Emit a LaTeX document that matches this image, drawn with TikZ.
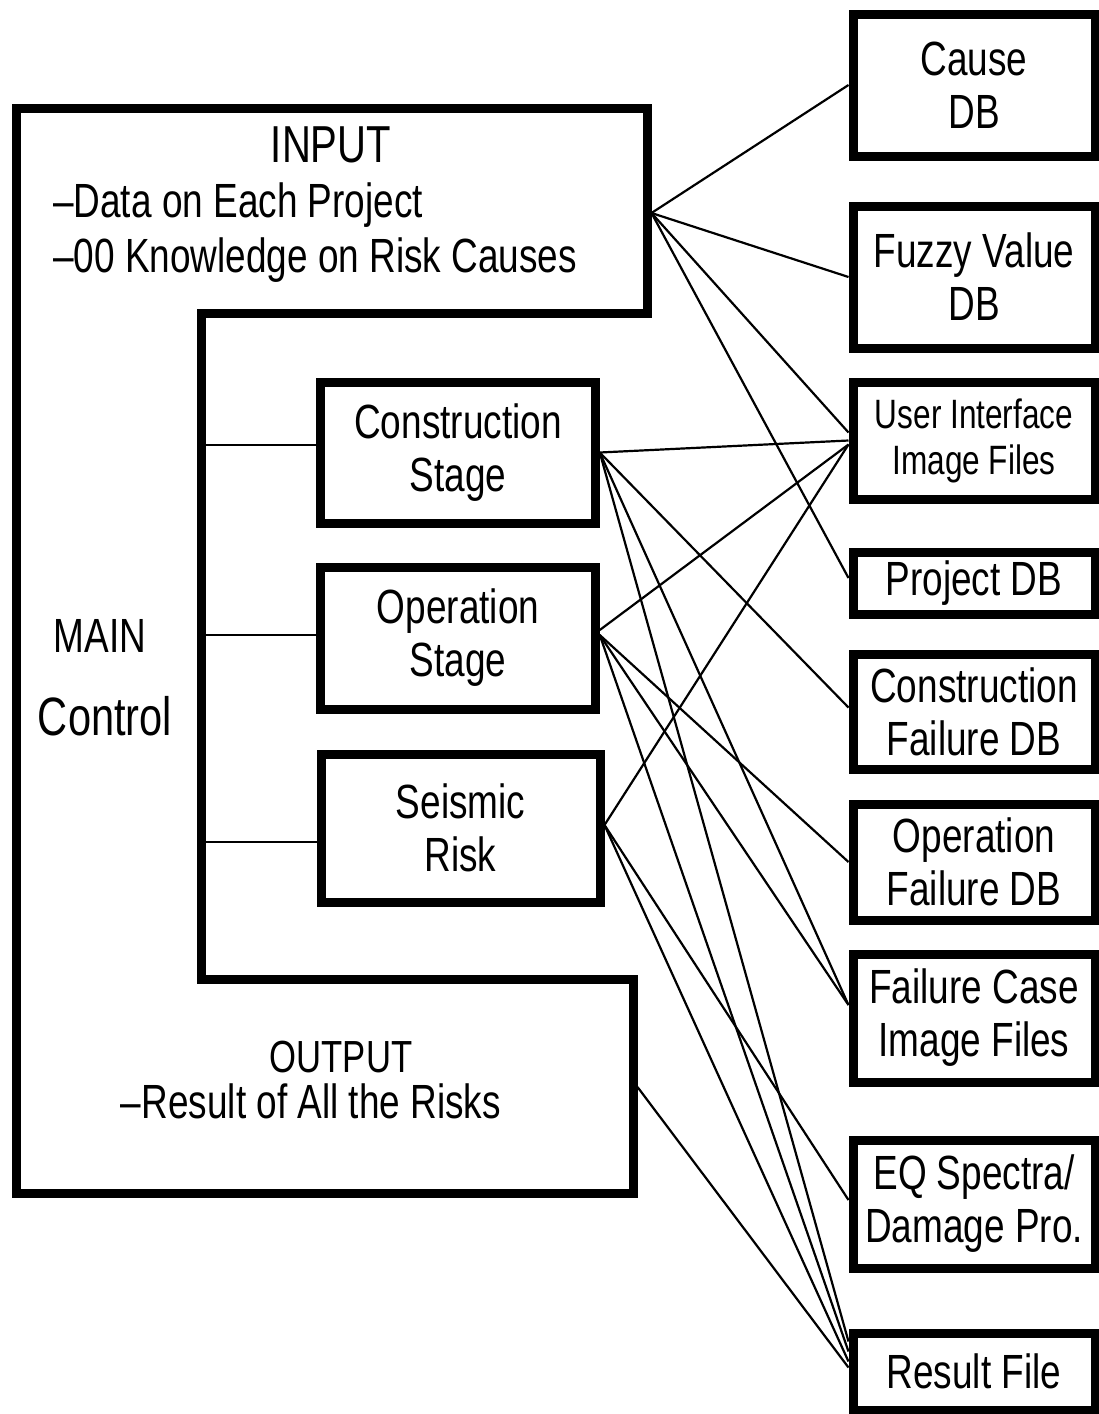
\documentclass[tikz,border=0pt]{standalone}
\usepackage{fontspec}
\setmainfont{Liberation Sans}[FakeStretch=0.77]
\newcommand\myfontA{\fontsize{48}{53}\selectfont}
\newcommand\myfontB{\fontsize{41}{46}\selectfont}
\begin{document}
\begin{tikzpicture}[x=1pt,y=-1pt,
  box/.style={draw, line width=9pt, inner sep=0pt, align=center, font=\myfontA},
  rbox/.style={box, minimum width=242pt},
  sbox/.style={box, minimum height=141pt},
  conn/.style={line width=2.2pt},
  lbl/.style={inner sep=0pt, font=\myfontA},
]
\useasboundingbox (0,0) rectangle (1099,1414);

% main frame (INPUT / MAIN / OUTPUT)
\draw[line width=9pt] (16,108) -- (647,108) -- (647,313) -- (201,313) -- (201,979)
  -- (633,979) -- (633,1193) -- (16,1193) -- cycle;

\node[lbl, anchor=base, font=\fontsize{52}{60}\selectfont] (tin) at (331,162) {INPUT};
\node[lbl, anchor=base west] (tdata) at (53,217) {\textendash Data on Each Project};
\node[lbl, anchor=base west] (tknow) at (53,272) {\textendash 00 Knowledge on Risk Causes};
\node[lbl, anchor=base] (tmain) at (100,652) {MAIN};
\node[lbl, anchor=base, font=\fontsize{54}{60}\selectfont] (tctrl) at (105,735) {Control};
\node[lbl, anchor=base, font=\fontsize{45}{50}\selectfont] (tout) at (341,1072) {OUTPUT};
\node[lbl, anchor=base] (tres) at (311,1118) {\textendash Result of All the Risks};

% stage boxes
\node[sbox, minimum width=274.5pt] (cons) at (458,452.5) {Construction\\Stage};
\node[sbox, minimum width=274.5pt, minimum height=142pt] (op) at (458,638) {Operation\\Stage};
\node[sbox, minimum width=279pt, minimum height=148pt] (seis) at (460.5,828) {Seismic\\Risk};

% right boxes
\node[rbox, minimum height=142pt] (cause) at (974,85) {Cause\\DB};
\node[rbox, minimum height=142pt] (fuzzy) at (974,277) {Fuzzy Value\\DB};
\node[rbox, minimum height=117pt, font=\myfontB] (ui) at (974,440.5) {User Interface\\Image Files};
\node[rbox, minimum height=62pt] (proj) at (974,583) {Project DB};
\node[rbox, minimum height=115pt] (cf) at (974,711.5) {Construction\\Failure DB};
\node[rbox, minimum height=116pt] (of) at (974,862) {Operation\\Failure DB};
\node[rbox, minimum height=128pt] (fc) at (974,1018) {Failure Case\\Image Files};
\node[rbox, minimum height=128pt] (eq) at (974,1204) {EQ Spectra/\\Damage Pro.};
\node[rbox, minimum height=77pt] (res) at (974,1371.5) {Result File};

% connector end points on the frame
\coordinate (inp) at (651.5,213);
\coordinate (outp) at (637.5,1087);
\coordinate (m1) at (205.5,445);
\coordinate (m2) at (205.5,635);
\coordinate (m3) at (205.5,842);

% MAIN to stages
\draw[conn] (m1) -- (m1 -| cons.west);
\draw[conn] (m2) -- (m2 -| op.west);
\draw[conn] (m3) -- (m3 -| seis.west);

% INPUT
\draw[conn] (inp) -- (cause.west);
\draw[conn] (inp) -- (fuzzy.west);
\draw[conn] (inp) -- ([yshift=8pt]ui.west);
\draw[conn] (inp) -- ([yshift=5pt]proj.west);

% Construction stage
\draw[conn] (cons.east) -- (ui.west);
\draw[conn] (cons.east) -- ([yshift=4pt]cf.west);
\draw[conn] (cons.east) -- ([yshift=13pt]fc.west);
\draw[conn] (cons.east) -- ([yshift=30pt]res.west);

% Operation stage
\draw[conn] ([yshift=8pt]op.east) -- ([yshift=-4pt]ui.west);
\draw[conn] ([yshift=3pt]op.east) -- (of.west);
\draw[conn] ([yshift=3pt]op.east) -- ([yshift=13pt]fc.west);
\draw[conn] ([yshift=3pt]op.east) -- ([yshift=20pt]res.west);

% Seismic risk
\draw[conn] ([yshift=3pt]seis.east) -- ([yshift=-4pt]ui.west);
\draw[conn] ([yshift=3pt]seis.east) -- ([yshift=4pt]eq.west);
\draw[conn] ([yshift=3pt]seis.east) -- ([yshift=10pt]res.west);

% OUTPUT
\draw[conn] (outp) -- ([yshift=4pt]res.west);
\end{tikzpicture}
\end{document}
